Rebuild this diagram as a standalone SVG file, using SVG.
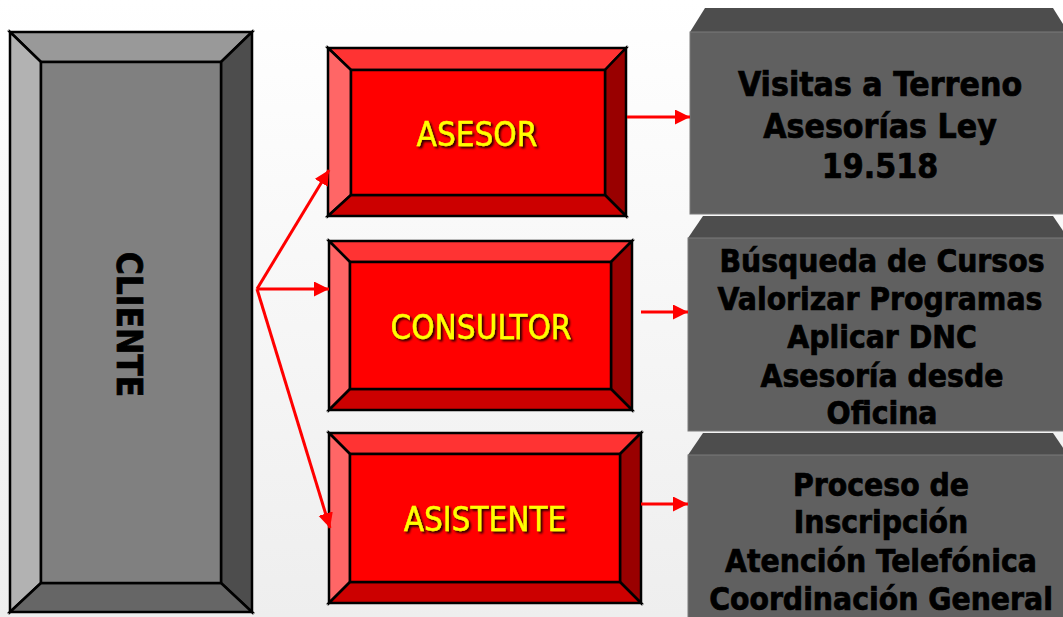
<svg xmlns="http://www.w3.org/2000/svg" width="1063" height="617" viewBox="0 0 1063 617">
<defs>
<linearGradient id="bg" x1="0" y1="0" x2="0" y2="1">
<stop offset="0" stop-color="#ffffff"/>
<stop offset="1" stop-color="#eeeeee"/>
</linearGradient>
<marker id="ah" markerUnits="userSpaceOnUse" markerWidth="16" markerHeight="16" refX="15" refY="7.5" orient="auto">
<path d="M0,0 L15,7.5 L0,15 z" fill="#ff0000"/>
</marker>
<filter id="sh" x="-10%" y="-30%" width="130%" height="170%">
<feDropShadow dx="2" dy="2" stdDeviation="1" flood-color="#000000" flood-opacity="0.85"/>
</filter>
</defs>
<style>
.bv{stroke:#000;stroke-width:2.5;stroke-linejoin:miter}
.red-t{fill:#ff3333}.red-l{fill:#ff6666}.red-r{fill:#990000}.red-b{fill:#cc0000}.red-c{fill:#ff0000}
.lbl{font-family:"DejaVu Sans Condensed","DejaVu Sans",sans-serif;font-size:33px;fill:#ffff00;stroke:#ffff00;stroke-width:0.4;text-anchor:middle}
.gt{font-family:"DejaVu Sans Condensed","DejaVu Sans",sans-serif;font-weight:bold;fill:#000;stroke:#000;stroke-width:0.7;text-anchor:middle}
.gb{fill:#4d4d4d}.gf{fill:#606060;stroke:#7a7a7a;stroke-width:1}
.cn{stroke:#ff0000;stroke-width:3;fill:none;marker-end:url(#ah)}
</style>
<rect x="0" y="0" width="1063" height="617" fill="url(#bg)"/>

<g id="cliente">
<polygon class="bv" points="10,32 252,32 221,62 41,62" fill="#999999"/>
<polygon class="bv" points="10,32 41,62 41,583 10,612" fill="#b2b2b2"/>
<polygon class="bv" points="252,32 252,612 221,583 221,62" fill="#4d4d4d"/>
<polygon class="bv" points="10,612 41,583 221,583 252,612" fill="#666666"/>
<rect class="bv" x="41" y="62" width="180" height="521" fill="#808080"/>
<text transform="translate(117,324.5) rotate(90)" x="0" y="0" font-family="'DejaVu Sans Condensed','DejaVu Sans',sans-serif" font-weight="bold" font-size="35" text-anchor="middle" fill="#000" stroke="#000" stroke-width="0.7">CLIENTE</text>
</g>

<g id="asesor">
<polygon class="bv red-t" points="328,48 626,48 605,70 351,70"/>
<polygon class="bv red-l" points="328,48 351,70 351,195 328,216"/>
<polygon class="bv red-r" points="626,48 626,216 605,195 605,70"/>
<polygon class="bv red-b" points="328,216 351,195 605,195 626,216"/>
<rect class="bv red-c" x="351" y="70" width="254" height="125"/>
<text class="lbl" x="477" y="146" filter="url(#sh)">ASESOR</text>
</g>

<g id="consultor">
<polygon class="bv red-t" points="329,241 632,241 611,262 350,262"/>
<polygon class="bv red-l" points="329,241 350,262 350,389 329,410"/>
<polygon class="bv red-r" points="632,241 632,410 611,389 611,262"/>
<polygon class="bv red-b" points="329,410 350,389 611,389 632,410"/>
<rect class="bv red-c" x="350" y="262" width="261" height="127"/>
<text class="lbl" x="481" y="339" filter="url(#sh)">CONSULTOR</text>
</g>

<g id="asistente">
<polygon class="bv red-t" points="329,433 641,433 620,454 350,454"/>
<polygon class="bv red-l" points="329,433 350,454 350,582 329,603"/>
<polygon class="bv red-r" points="641,433 641,603 620,582 620,454"/>
<polygon class="bv red-b" points="329,603 350,582 620,582 641,603"/>
<rect class="bv red-c" x="350" y="454" width="270" height="128"/>
<text class="lbl" x="485" y="531" font-size="35" filter="url(#sh)">ASISTENTE</text>
</g>

<g id="box1">
<polygon class="gb" points="690,32 705,8 1053,8 1068,32"/>
<rect class="gf" x="690" y="32" width="390" height="182"/>
<text class="gt" font-size="33.5"><tspan x="880" y="96">Visitas a Terreno</tspan><tspan x="880" y="138">Asesorías Ley</tspan><tspan x="880" y="178">19.518</tspan></text>
</g>

<g id="box2">
<polygon class="gb" points="688,238 703,216 1053,216 1068,238"/>
<rect class="gf" x="688" y="238" width="390" height="193"/>
<text class="gt" font-size="31.5"><tspan x="882" y="272">Búsqueda de Cursos</tspan><tspan x="880" y="310">Valorizar Programas</tspan><tspan x="882" y="348">Aplicar DNC</tspan><tspan x="882" y="387">Asesoría desde</tspan><tspan x="882" y="424">Oficina</tspan></text>
</g>

<g id="box3">
<polygon class="gb" points="688,455 703,433 1053,433 1068,455"/>
<rect class="gf" x="688" y="455" width="390" height="180"/>
<text class="gt" font-size="31.5"><tspan x="881" y="496">Proceso de</tspan><tspan x="881" y="533">Inscripción</tspan><tspan x="881" y="572">Atención Telefónica</tspan><tspan x="881" y="610">Coordinación General</tspan></text>
</g>

<g id="connectors">
<line class="cn" x1="257" y1="289" x2="329" y2="170"/>
<line class="cn" x1="257" y1="289" x2="329" y2="289"/>
<line class="cn" x1="257" y1="289" x2="330" y2="528"/>
<line class="cn" x1="627" y1="117" x2="690" y2="117"/>
<line class="cn" x1="641" y1="312" x2="688" y2="312"/>
<line class="cn" x1="641" y1="504" x2="688" y2="504"/>
</g>
</svg>
